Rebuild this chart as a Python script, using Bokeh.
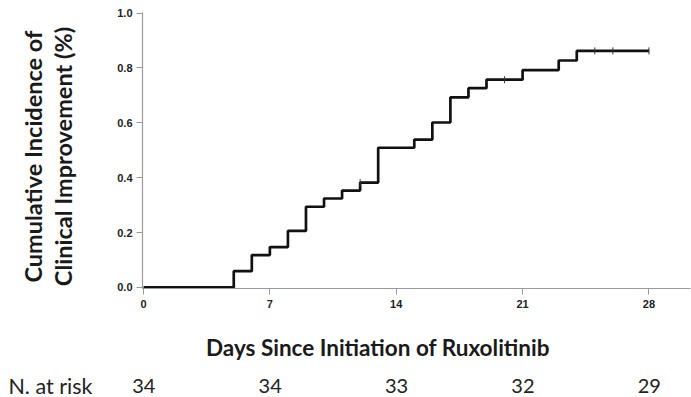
import math
from bokeh.plotting import figure
from bokeh.models import Range1d, FixedTicker, NumeralTickFormatter
from bokeh.layouts import column, row
from bokeh.core.properties import value
from bokeh.embed import file_html
from bokeh.resources import INLINE

# ---- data ----
step_days = [0, 5, 6, 7, 8, 9, 10, 11, 12, 13, 15, 16, 17, 18, 19, 21, 23, 24, 28]
step_cum = [0.0, 0.059, 0.118, 0.147, 0.206, 0.294, 0.324, 0.353, 0.382, 0.509,
            0.539, 0.601, 0.693, 0.726, 0.757, 0.792, 0.827, 0.862, 0.862]
censor_days = [12, 20, 25, 26, 28]
censor_cum = [0.382, 0.757, 0.862, 0.862, 0.862]
x_ticks = [0, 7, 14, 21, 28]
y_ticks = [0.0, 0.2, 0.4, 0.6, 0.8, 1.0]
risk_days = [0, 7, 14, 21, 28]
risk_n = ["34", "34", "33", "32", "29"]

x_title = "Days Since Initiation of Ruxolitinib"
y_title_lines = ["Cumulative Incidence of", "Clinical Improvement (%)"]
risk_label = "N. at risk"

TITLE_FONT = "Lato"
TICK_FONT = "Liberation Sans"
AXIS_GRAY = "#9a9a9a"
TXT = "#1a1a1a"


def blank(fig):
    fig.axis.visible = False
    fig.grid.visible = False
    fig.outline_line_color = None
    fig.min_border = 0
    fig.background_fill_color = "white"
    fig.border_fill_color = "white"


# ---- main plot ----
p = figure(width=591, height=320, output_backend="svg", toolbar_location=None,
           x_range=Range1d(-0.055, 30.30), y_range=Range1d(-0.004, 1.002),
           min_border_left=42, min_border_right=1, min_border_top=12,
           min_border_bottom=32)
p.outline_line_color = None
p.xgrid.visible = False
p.ygrid.visible = False
p.background_fill_color = "white"
p.border_fill_color = "white"

for ax in (p.xaxis[0], p.yaxis[0]):
    ax.axis_line_color = AXIS_GRAY
    ax.axis_line_width = 1.2
    ax.major_tick_line_color = AXIS_GRAY
    ax.major_tick_in = 0
    ax.major_tick_out = 6
    ax.minor_tick_line_color = None
    ax.major_label_text_font = TICK_FONT
    ax.major_label_text_font_style = "bold"
    ax.major_label_text_font_size = "11px"
    ax.major_label_text_color = "#222222"

p.xaxis[0].ticker = FixedTicker(ticks=x_ticks)
p.xaxis[0].major_label_standoff = 5
p.yaxis[0].ticker = FixedTicker(ticks=y_ticks)
p.yaxis[0].formatter = NumeralTickFormatter(format="0.0")
p.yaxis[0].major_label_standoff = 4

p.step(step_days, step_cum, mode="after", line_color="#111111", line_width=2.7)
p.scatter(censor_days, censor_cum, marker="dash", angle=math.pi / 2, size=7,
          line_color="#333333", line_width=1)

# ---- y-title panel (left of plot) ----
t = figure(width=100, height=320, output_backend="svg", toolbar_location=None,
           x_range=Range1d(0, 100), y_range=Range1d(0, 320))
blank(t)
t.text(x=[32, 62], y=[153, 153], text=y_title_lines, angle=math.pi / 2,
       text_align="center", text_baseline="middle",
       text_font=value(TITLE_FONT), text_font_style="bold",
       text_font_size="23.5px", text_color=TXT)

# ---- x-title and numbers-at-risk panel (below) ----
r = figure(width=691, height=77, output_backend="svg", toolbar_location=None,
           x_range=Range1d(-7.94, 30.34), y_range=Range1d(0, 77))
blank(r)
r.text(x=[12.97], y=[50], text=[x_title], text_align="center",
       text_baseline="middle", text_font=value(TITLE_FONT),
       text_font_style="bold", text_font_size="22.5px", text_color=TXT)
r.text(x=[-7.50], y=[12], text=[risk_label], text_align="left",
       text_baseline="middle", text_font=value(TITLE_FONT),
       text_font_size="21.5px", text_color="#222222")
r.text(x=risk_days, y=[12] * len(risk_days), text=risk_n, text_align="center",
       text_baseline="middle", text_font=value(TITLE_FONT),
       text_font_size="20px", text_color="#222222")

layout = column(row(t, p, spacing=0), r, spacing=0)
open("out.html", "w").write(file_html(layout, INLINE))
